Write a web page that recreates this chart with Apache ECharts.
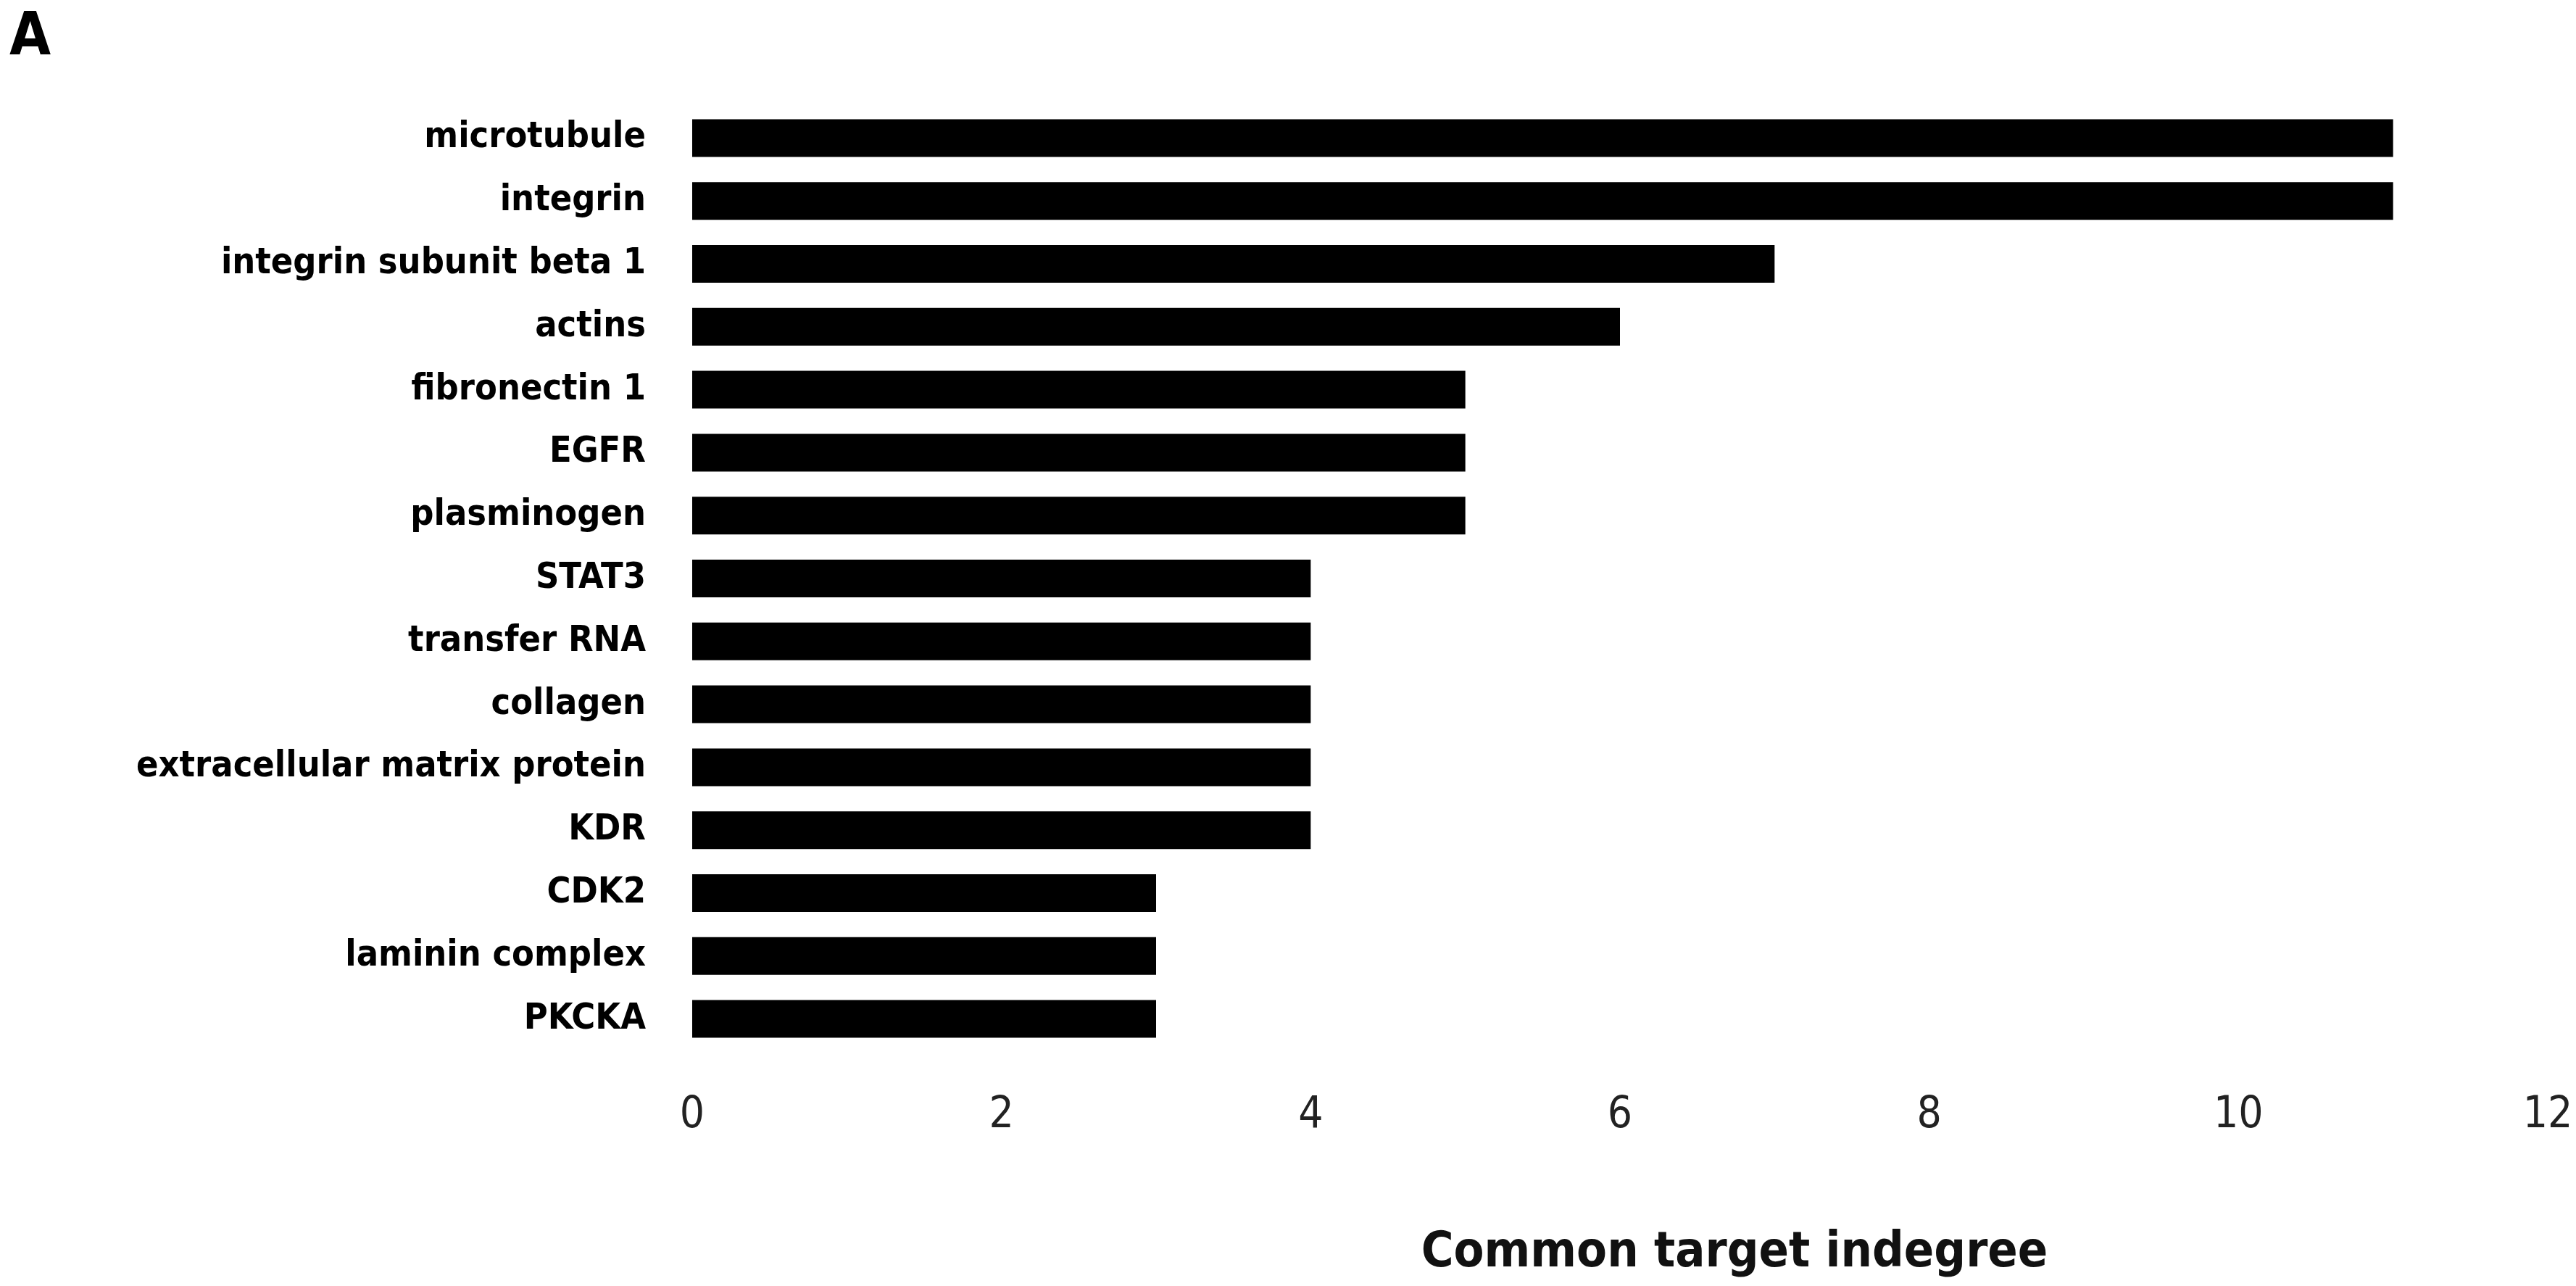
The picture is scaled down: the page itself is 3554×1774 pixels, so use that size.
<!DOCTYPE html>
<html>
<head>
<meta charset="utf-8">
<script src="https://cdn.jsdelivr.net/npm/echarts@6/dist/echarts.min.js"></script>
<style>
  html, body { margin: 0; padding: 0; background: #fff; }
  #chart { width: 3554px; height: 1774px; }
</style>
</head>
<body>
<div id="chart"></div>
<script>
// categories, top to bottom
const targets = [
  "microtubule", "integrin", "integrin subunit beta 1", "actins", "fibronectin 1",
  "EGFR", "plasminogen", "STAT3", "transfer RNA", "collagen",
  "extracellular matrix protein", "KDR", "CDK2", "laminin complex", "PKCKA"
];
// indegree values
const indegree = [11, 11, 7, 6, 5, 5, 5, 4, 4, 4, 4, 4, 3, 3, 3];
const xTicks = [0, 2, 4, 6, 8, 10, 12];

const narrow = "'Liberation Sans Narrow', 'DejaVu Sans Condensed', 'Arial Narrow', sans-serif";

const chart = echarts.init(document.getElementById("chart"));
const option = {
  animation: false,
  backgroundColor: "#fff",
  title: {
    text: "A",
    left: 8,
    top: 8,
    textStyle: { fontFamily: narrow, fontSize: 82, fontWeight: "bold", color: "#000" },
  },
  grid: {
    left: 955,
    right: 39,
    top: 147,
    bottom: 325,
    containLabel: false,
  },
  xAxis: {
    type: "value",
    min: xTicks[0],
    max: xTicks[xTicks.length - 1],
    interval: 2,
    axisLine: { show: false },
    axisTick: { show: false },
    splitLine: { show: false },
    axisLabel: {
      margin: 60,
      fontFamily: narrow,
      fontSize: 60,
      color: "#222",
    },
    name: "Common target indegree",
    nameLocation: "middle",
    nameGap: 246,
    nameTextStyle: {
      fontFamily: narrow,
      fontSize: 68,
      fontWeight: "bold",
      color: "#111",
      padding: [0, 0, 0, 316],
    },
  },
  yAxis: {
    type: "category",
    data: targets,
    inverse: true,
    axisLine: { show: false },
    axisTick: { show: false },
    axisLabel: {
      margin: 64,
      fontFamily: narrow,
      fontSize: 50,
      fontWeight: "bold",
      color: "#000",
    },
  },
  series: [
    {
      type: "bar",
      data: indegree,
      barWidth: 52,
      itemStyle: { color: "#000" },
    },
  ],
};
chart.setOption(option);
</script>
</body>
</html>
